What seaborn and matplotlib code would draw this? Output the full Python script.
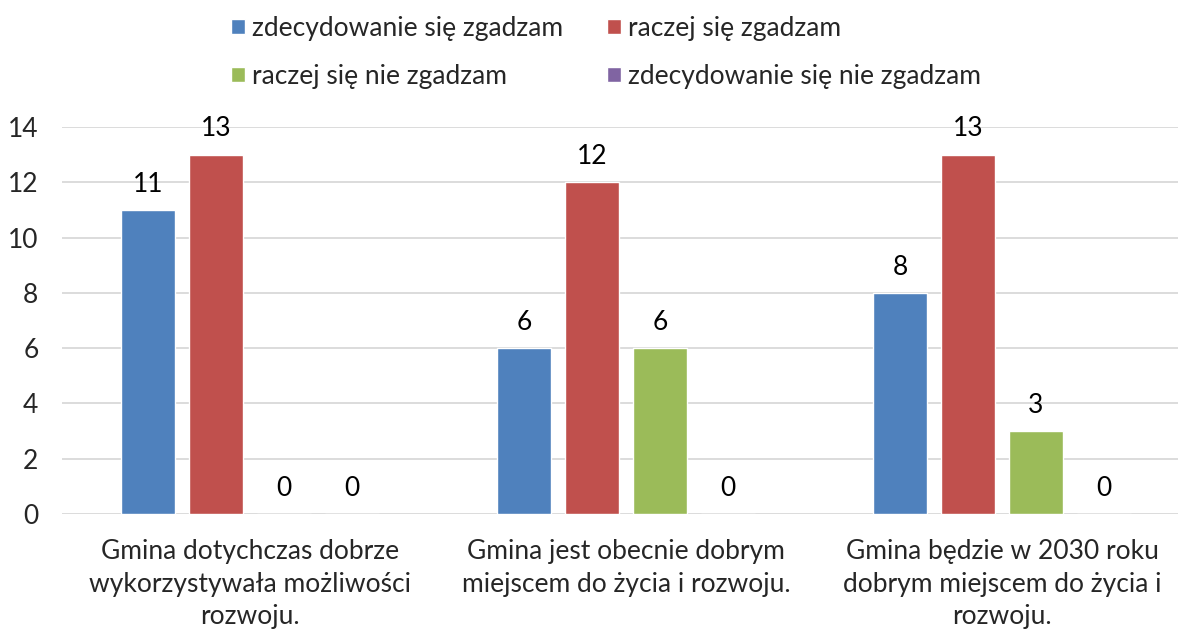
import pandas as pd
import matplotlib
matplotlib.use("Agg")
import matplotlib.pyplot as plt
import seaborn as sns

# Survey data
questions = [
    "Gmina dotychczas dobrze\nwykorzystywała możliwości\nrozwoju.",
    "Gmina jest obecnie dobrym\nmiejscem do życia i rozwoju.",
    "Gmina będzie w 2030 roku\ndobrym miejscem do życia i\nrozwoju.",
]
answers = [
    "zdecydowanie się zgadzam",
    "raczej się zgadzam",
    "raczej się nie zgadzam",
    "zdecydowanie się nie zgadzam",
]
strongly_agree = [11, 6, 8]
agree = [13, 12, 13]
disagree = [0, 6, 3]
strongly_disagree = [0, 0, 0]
colors = ["#4F81BD", "#C0504D", "#9BBB59", "#8064A2"]

rows = []
for series, name in zip([strongly_agree, agree, disagree, strongly_disagree], answers):
    for q, v in zip(questions, series):
        rows.append({"question": q, "answer": name, "count": v})
df = pd.DataFrame(rows)

sns.set_style("white")
plt.rcParams["font.family"] = ["Lato", "DejaVu Sans"]
FS = 19

fig = plt.figure(figsize=(11.78, 6.36), dpi=100)
ax = fig.add_axes([62 / 1178, 1 - 514 / 636, 1 - 62 / 1178, (514 - 127) / 636])

sns.barplot(data=df, x="question", y="count", hue="answer", hue_order=answers,
            palette=colors, width=0.723, gap=0.206, ax=ax, saturation=1)

for container in ax.containers:
    ax.bar_label(container, padding=9.5, fontsize=FS, color="#000000")

ax.set_xlim(-0.5, -0.5 + (1178 - 62) / 376)
ax.set_ylim(0, 14)
ax.set_yticks(range(0, 15, 2))
ax.yaxis.grid(True, color="#D9D9D9", linewidth=1.3)
ax.set_axisbelow(True)
for s in ax.spines.values():
    s.set_visible(False)
ax.set_xlabel("")
ax.set_ylabel("")
ax.tick_params(axis="x", length=0, pad=18, labelsize=FS)
ax.tick_params(axis="y", length=0, pad=17, labelsize=FS)
for lbl in ax.get_xticklabels():
    lbl.set_linespacing(1.38)

handles, labels = ax.get_legend_handles_labels()
order = [0, 2, 1, 3]
ax.legend([handles[i] for i in order], [labels[i] for i in order],
          ncol=2, loc="upper center", bbox_to_anchor=(606 / 1178, 1.012),
          bbox_transform=fig.transFigure, frameon=False, fontsize=FS,
          handlelength=0.52, handleheight=0.52, handletextpad=0.25,
          columnspacing=1.7, labelspacing=0.86)

fig.savefig("out.png", dpi=100)
